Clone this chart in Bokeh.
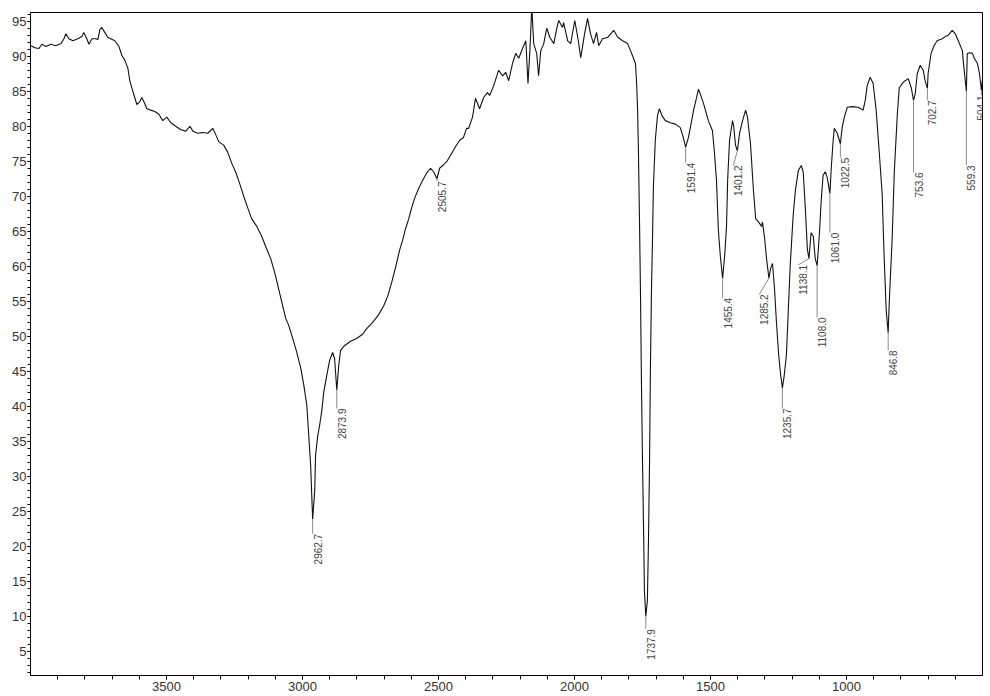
import math
from bokeh.plotting import figure
from bokeh.models import ColumnDataSource, LabelSet, FixedTicker, Range1d
from bokeh.core.properties import value
from bokeh.embed import file_html
from bokeh.resources import INLINE

# ---- spectrum (wavenumber cm-1, %T) ----
wn_a = [3998, 3984, 3969, 3958, 3943, 3925, 3907, 3888, 3877, 3870,
        3859, 3844, 3826, 3811, 3804, 3793, 3785, 3774, 3760, 3752,
        3745, 3738, 3727, 3716, 3705, 3690, 3675, 3664, 3653, 3642,
        3635, 3627, 3616, 3609, 3598, 3591, 3583, 3572, 3558, 3543,
        3528, 3514, 3499, 3484, 3466, 3447, 3429, 3414, 3403, 3385,
        3367, 3348, 3330, 3319, 3308, 3290, 3275, 3260, 3245, 3231,
        3216, 3201, 3187, 3168, 3150, 3132, 3117, 3102, 3088, 3073,
        3062, 3051, 3036, 3021, 3006, 2995, 2984, 2977, 2970, 2966, 2962.7]
t_a = [91.5, 91.2, 91.1, 91.7, 91.4, 91.7, 91.5, 91.8, 92.5, 93.2,
       92.5, 92.2, 92.5, 92.8, 93.4, 92.5, 91.7, 92.5, 92.5, 92.4,
       93.8, 94.1, 93.4, 92.7, 92.5, 92.2, 91.4, 90.1, 89.4, 88.3,
       86.5, 85.4, 84.0, 83.1, 83.5, 84.1, 83.5, 82.5, 82.3, 82.1,
       81.7, 80.8, 81.3, 80.5, 80.0, 79.5, 79.3, 80.0, 79.3, 79.0,
       79.1, 79.0, 79.7, 78.8, 77.8, 77.3, 76.3, 74.7, 73.4, 71.8,
       70.0, 68.3, 66.8, 65.7, 64.3, 62.5, 61.1, 59.1, 56.8, 54.4,
       52.6, 51.6, 49.7, 47.7, 45.4, 43.0, 40.1, 35.8, 31.6, 27.3, 23.9]

wn_b = [2955, 2952, 2944, 2937, 2929, 2922, 2911, 2900, 2889, 2882,
        2873.9, 2867, 2860, 2845, 2823, 2801, 2779, 2764, 2742, 2720,
        2701, 2687, 2672, 2657, 2643, 2632, 2621, 2610, 2599, 2588,
        2573, 2558, 2544, 2529, 2518, 2505.7, 2496, 2481, 2467, 2452,
        2437, 2422, 2408]
t_b = [28.0, 33.0, 35.8, 37.3, 39.4, 42.0, 44.4, 46.6, 47.7, 46.8,
       42.3, 45.8, 48.0, 48.7, 49.3, 49.7, 50.3, 51.1, 52.0, 53.1,
       54.4, 55.7, 57.7, 60.0, 62.3, 63.7, 65.4, 66.7, 68.3, 69.7,
       71.1, 72.3, 73.3, 74.0, 73.5, 72.5, 74.0, 74.5, 75.1, 76.1,
       77.1, 78.0, 78.4]

wn_c = [2397, 2389, 2375, 2364, 2349, 2334, 2320, 2312, 2297, 2279,
        2264, 2253, 2242, 2227, 2216, 2205, 2190, 2179, 2171, 2164,
        2157, 2150, 2139, 2132, 2124, 2113, 2102, 2091, 2076, 2065,
        2058, 2044, 2040, 2025, 2014, 1999, 1988, 1977, 1963, 1952,
        1941, 1930, 1919, 1911, 1897, 1878, 1856, 1841, 1823, 1805,
        1794, 1787, 1776]
t_c = [79.7, 79.7, 81.3, 84.0, 82.5, 84.1, 84.8, 84.4, 85.8, 88.0,
       87.2, 87.7, 86.5, 89.1, 90.4, 89.7, 91.2, 92.2, 86.1, 90.8,
       97.0, 91.8, 90.4, 87.2, 90.8, 91.8, 94.0, 92.7, 91.8, 94.0,
       95.1, 94.1, 94.8, 92.2, 91.8, 95.1, 92.7, 89.8, 93.2, 95.4,
       93.2, 91.8, 93.4, 91.5, 92.5, 92.7, 93.7, 92.7, 92.2, 91.8,
       90.8, 90.1, 89.0]

wn_d = [1772, 1768, 1765, 1761, 1757, 1754, 1750, 1746, 1743, 1737.9,
        1732, 1728, 1724, 1721, 1717, 1713, 1710, 1703, 1695, 1688,
        1677, 1666, 1647, 1629, 1611, 1600, 1591.4, 1581, 1562, 1544,
        1526, 1508]
t_d = [86.5, 82.3, 76.5, 66.5, 55.1, 43.7, 32.3, 22.3, 13.7, 10.0,
       12.3, 20.9, 32.3, 45.1, 56.5, 64.4, 71.3, 78.0, 81.5, 82.5,
       81.4, 80.8, 80.5, 80.3, 79.8, 78.4, 77.0, 78.4, 82.3, 85.3,
       83.3, 80.8]

wn_e = [1493, 1486, 1478, 1471, 1464, 1455.4, 1448, 1441, 1437, 1430,
        1419, 1415, 1408, 1401.2, 1393, 1382, 1371, 1364, 1353, 1342,
        1334, 1323, 1312, 1309, 1301, 1294, 1285.2, 1279, 1272, 1265,
        1258, 1250, 1243, 1235.7, 1229, 1221, 1214, 1207, 1196, 1188,
        1177, 1166, 1159, 1151, 1144, 1138.1, 1130, 1122, 1115, 1108.0,
        1100, 1093, 1086, 1078, 1071, 1061.0, 1056, 1049, 1045, 1034,
        1022.5, 1016, 1008]
t_e = [79.4, 76.5, 72.3, 65.1, 61.5, 58.3, 61.5, 65.8, 72.3, 78.0,
       80.8, 80.1, 77.3, 76.5, 79.0, 80.8, 82.3, 81.3, 77.5, 70.8,
       66.8, 66.3, 65.7, 66.3, 64.0, 61.1, 58.3, 59.7, 60.4, 57.0,
       52.3, 47.7, 44.8, 42.6, 44.4, 47.3, 53.7, 60.1, 67.3, 70.8,
       73.7, 74.4, 73.4, 68.0, 62.5, 61.1, 64.8, 64.3, 61.1, 60.1,
       64.4, 69.4, 73.0, 73.5, 72.7, 70.4, 74.1, 78.0, 79.7, 79.0,
       77.5, 79.8, 81.3]

wn_f = [997, 979, 957, 939, 931, 924, 913, 902, 891, 880,
        869, 862, 854, 846.8, 843, 832, 824, 813, 806, 791,
        784, 773, 762, 753.6, 747, 740, 729, 718, 711, 702.7,
        700, 689, 678, 667, 648, 637, 626, 611, 600, 589,
        574, 571, 559.3, 556, 548, 537, 530, 519, 511, 504.1, 501]
t_f = [82.7, 82.8, 82.7, 82.3, 83.7, 85.8, 87.0, 86.1, 82.3, 76.5,
       70.4, 61.8, 53.7, 50.5, 54.7, 64.1, 73.7, 81.8, 85.5, 86.3,
       86.5, 86.8, 85.5, 83.7, 84.7, 87.5, 88.7, 88.0, 86.5, 85.4,
       87.5, 90.4, 91.5, 92.2, 92.5, 92.8, 93.0, 93.7, 93.2, 92.2,
       90.8, 89.4, 85.0, 90.4, 90.5, 90.4, 89.7, 89.0, 87.5, 85.1, 86.5]

# ---- peak annotations ----
peak_labels = ["2962.7", "2873.9", "2505.7", "1737.9", "1591.4", "1455.4",
               "1401.2", "1285.2", "1235.7", "1138.1", "1108.0", "1061.0",
               "1022.5", "846.8", "753.6", "702.7", "559.3", "504.1"]
peak_wn = [2962.7, 2873.9, 2505.7, 1737.9, 1591.4, 1455.4, 1401.2, 1285.2,
           1235.7, 1138.1, 1108.0, 1061.0, 1022.5, 846.8, 753.6, 702.7,
           559.3, 504.1]
peak_t = [23.9, 42.3, 72.5, 10.0, 77.0, 58.3, 76.5, 58.3, 42.6, 61.1, 60.1,
          70.4, 77.5, 50.5, 83.7, 85.4, 85.0, 85.1]
label_wn = [2962.7, 2873.9, 2505.7, 1737.9, 1591.4, 1455.4, 1416.1, 1320.6,
            1235.7, 1177.4, 1108.0, 1061.0, 1022.5, 846.8, 753.6, 702.7,
            559.3, 504.1]
label_t = [21.8, 39.7, 72.1, 8.2, 74.8, 55.5, 74.4, 56.0, 39.7, 60.2, 52.7,
           64.8, 75.5, 48.0, 73.4, 83.7, 74.4, 84.4]

x_major = [1000, 1500, 2000, 2500, 3000, 3500]
y_major = [5, 10, 15, 20, 25, 30, 35, 40, 45, 50, 55, 60, 65, 70, 75, 80, 85, 90, 95]

wn = wn_a + wn_b + wn_c + wn_d + wn_e + wn_f
tr = t_a + t_b + t_c + t_d + t_e + t_f
assert len(wn) == len(tr), (len(wn), len(tr))

p = figure(width=990, height=696, x_range=Range1d(4000, 500),
           y_range=Range1d(1.57, 96.24), output_backend="svg",
           toolbar_location=None, min_border_left=30, min_border_right=8,
           min_border_top=12, min_border_bottom=21)
p.grid.visible = False
p.outline_line_color = "black"
p.outline_line_width = 1
p.background_fill_color = "white"
p.border_fill_color = "white"

p.xaxis.ticker = FixedTicker(ticks=x_major, minor_ticks=list(range(600, 4000, 100)))
p.yaxis.ticker = FixedTicker(ticks=y_major, minor_ticks=list(range(2, 97)))
for ax in (p.xaxis, p.yaxis):
    ax.axis_line_color = "black"
    ax.major_tick_line_color = "black"
    ax.minor_tick_line_color = "black"
    ax.major_tick_in = 0
    ax.minor_tick_in = 0
    ax.major_label_text_font = "Liberation Sans"
    ax.major_label_text_font_size = "13px"
    ax.major_label_text_color = "#333333"
p.xaxis.major_tick_out = 4
p.xaxis.minor_tick_out = 4
p.xaxis.major_label_standoff = 2
p.yaxis.major_tick_out = 3
p.yaxis.minor_tick_out = 3
p.yaxis.major_label_standoff = 1

p.line(wn, tr, line_color="#111111", line_width=1.1)

# screen offset of each label from its leader (last one kept inside the page)
dx = [5] * len(peak_labels)
dx[-1] = 0

src = ColumnDataSource(dict(px=peak_wn, py=peak_t, lx=label_wn, ly=label_t,
                            txt=peak_labels, dx=dx))
p.segment(x0="px", y0="py", x1="lx", y1="ly", source=src, line_color="#8a8a8a", line_width=1)
labels = LabelSet(x="lx", y="ly", text="txt", source=src, angle=math.pi / 2,
                  text_align="right", text_baseline="middle", x_offset="dx",
                  text_font=value("Liberation Sans"), text_font_size=value("10px"),
                  text_color=value("#444444"))
p.add_layout(labels)

open("out.html", "w").write(file_html(p, INLINE))
